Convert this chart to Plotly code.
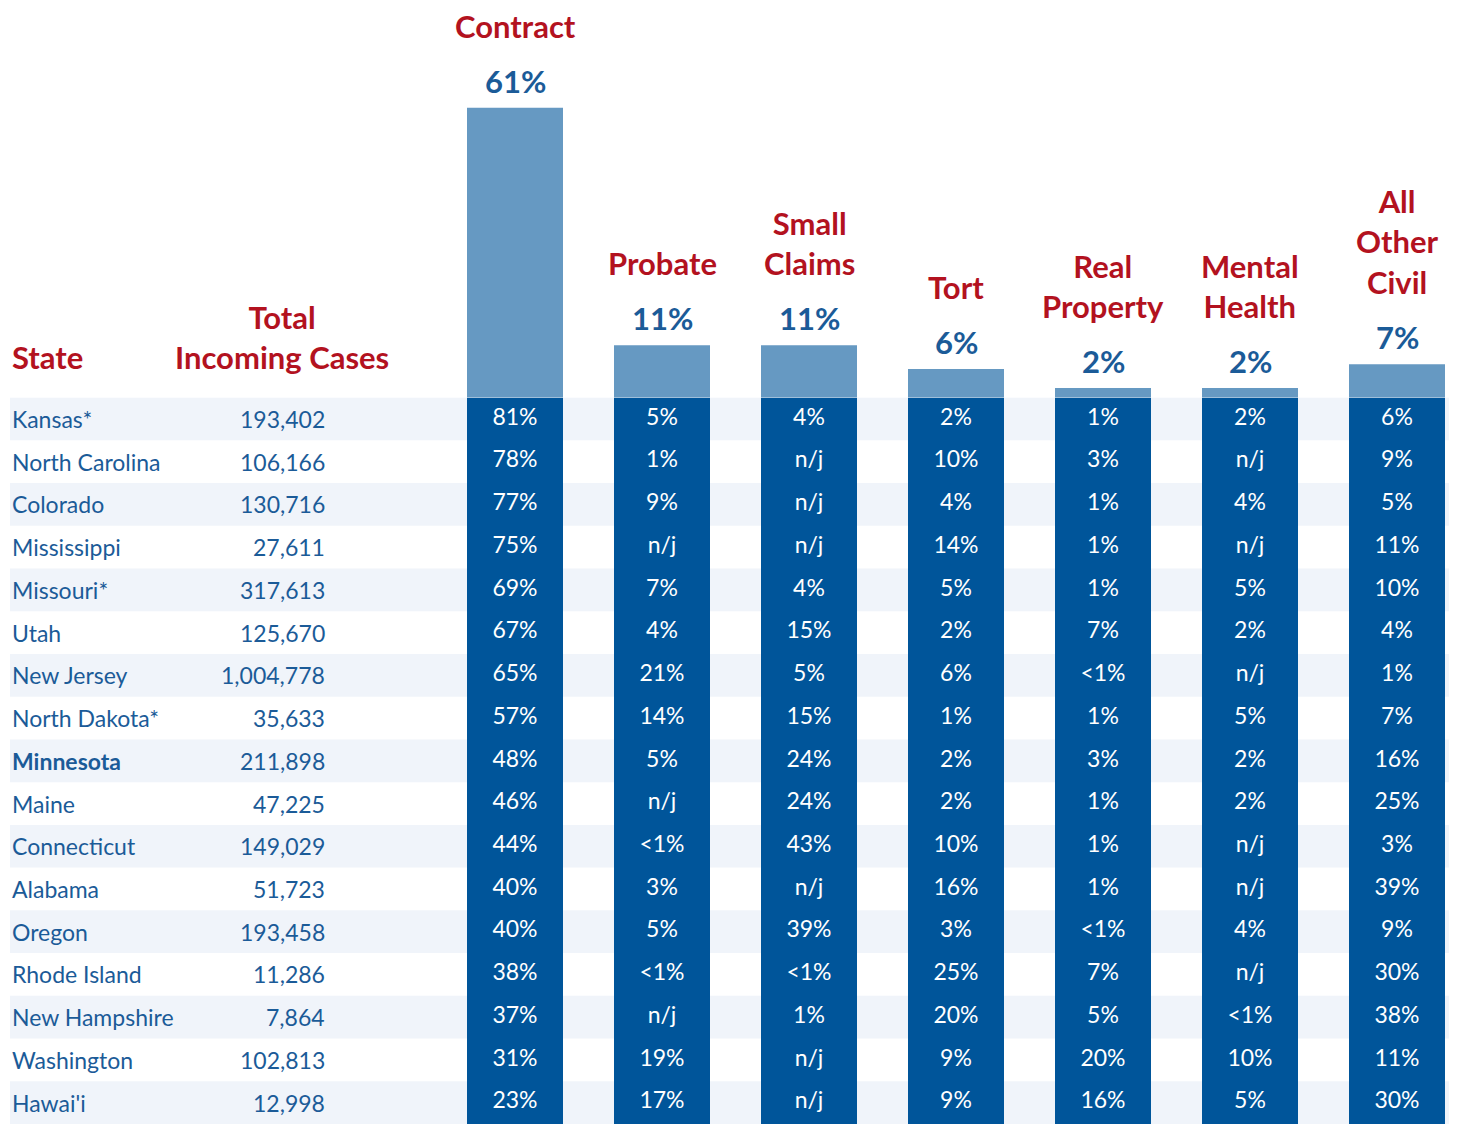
import plotly.graph_objects as go

# data
states = ["Kansas*", "North Carolina", "Colorado", "Mississippi", "Missouri*", "Utah",
          "New Jersey", "North Dakota*", "Minnesota", "Maine", "Connecticut", "Alabama",
          "Oregon", "Rhode Island", "New Hampshire", "Washington", "Hawai'i"]
totals = ["193,402", "106,166", "130,716", "27,611", "317,613", "125,670", "1,004,778",
          "35,633", "211,898", "47,225", "149,029", "51,723", "193,458", "11,286",
          "7,864", "102,813", "12,998"]
categories = ["Contract", "Probate", "Small<br>Claims", "Tort", "Real<br>Property",
              "Mental<br>Health", "All<br>Other<br>Civil"]
overall = [61, 11, 11, 6, 2, 2, 7]

contract = ["81%", "78%", "77%", "75%", "69%", "67%", "65%", "57%", "48%", "46%", "44%",
            "40%", "40%", "38%", "37%", "31%", "23%"]
probate = ["5%", "1%", "9%", "n/j", "7%", "4%", "21%", "14%", "5%", "n/j", "<1%", "3%",
           "5%", "<1%", "n/j", "19%", "17%"]
small_claims = ["4%", "n/j", "n/j", "n/j", "4%", "15%", "5%", "15%", "24%", "24%", "43%",
                "n/j", "39%", "<1%", "1%", "n/j", "n/j"]
tort = ["2%", "10%", "4%", "14%", "5%", "2%", "6%", "1%", "2%", "2%", "10%", "16%", "3%",
        "25%", "20%", "9%", "9%"]
real_property = ["1%", "3%", "1%", "1%", "1%", "7%", "<1%", "1%", "3%", "1%", "1%", "1%",
                 "<1%", "7%", "5%", "20%", "16%"]
mental_health = ["2%", "n/j", "4%", "n/j", "5%", "2%", "n/j", "5%", "2%", "2%", "n/j",
                 "n/j", "4%", "n/j", "<1%", "10%", "5%"]
all_other = ["6%", "9%", "5%", "11%", "10%", "4%", "1%", "7%", "16%", "25%", "3%", "39%",
             "9%", "30%", "38%", "11%", "30%"]
columns = [contract, probate, small_claims, tort, real_property, mental_health, all_other]

RED = "#b3121f"
BLUE_TXT = "#1b5b98"
DARK = "#00559a"
LIGHT = "#6699c2"
STRIPE = "#f0f4fa"
FONT = "Lato"

W, H = 1457, 1124
OFF = 8  # page body margin
step = 147.0
x0 = 515.0
def px2x(p):
    return (p - x0) / step

n = len(states)
cols = list(range(len(categories)))
table_top = 397.6 - OFF
table_bot = 1124 - OFF
split = (H - table_top) / H
pct_scale = 4.75  # px per percent

fig = go.Figure()

# top bars (overall share)
fig.add_trace(go.Bar(x=cols, y=overall, width=96 / step, marker_color=LIGHT,
                     marker_line_width=0, yaxis="y", hoverinfo="skip"))

# dark columns behind per-state cells
fig.add_trace(go.Bar(x=cols, y=[n] * len(cols), base=-0.5, width=96 / step,
                     marker_color=DARK, marker_line_width=0, yaxis="y2", hoverinfo="skip"))

# cell values
xs, ys, ts = [], [], []
for ci, col in enumerate(columns):
    for ri, v in enumerate(col):
        xs.append(ci); ys.append(ri); ts.append(v)
fig.add_trace(go.Scatter(x=xs, y=ys, text=ts, mode="text", yaxis="y2",
                         textfont=dict(family=FONT, size=23, color="white"),
                         hoverinfo="skip"))

annotations = []
for ri, (s, t) in enumerate(zip(states, totals)):
    bold = s == "Minnesota"
    annotations.append(dict(x=px2x(10), y=ri, xref="x", yref="y2", text=f"<b>{s}</b>" if bold else s,
                            showarrow=False, xanchor="left", yanchor="middle",
                            font=dict(family=FONT, size=23, color=BLUE_TXT)))
    annotations.append(dict(x=px2x(327), y=ri, xref="x", yref="y2", text=t,
                            showarrow=False, xanchor="right", yanchor="middle",
                            font=dict(family=FONT, size=23, color=BLUE_TXT)))

for ci, (c, v) in enumerate(zip(categories, overall)):
    annotations.append(dict(x=ci, y=v, xref="x", yref="y", text=f"<b>{v}%</b>",
                            showarrow=False, yanchor="bottom", yshift=6,
                            font=dict(family=FONT, size=31, color=BLUE_TXT)))
    annotations.append(dict(x=ci, y=v, xref="x", yref="y", text=f"<b>{c}</b>",
                            showarrow=False, yanchor="bottom", yshift=61,
                            font=dict(family=FONT, size=31, color=RED)))

annotations.append(dict(x=px2x(10), y=0, xref="x", yref="y", text="<b>State</b>",
                        showarrow=False, xanchor="left", yanchor="bottom", yshift=20,
                        font=dict(family=FONT, size=31, color=RED)))
annotations.append(dict(x=px2x(282), y=0, xref="x", yref="y", text="<b>Total<br>Incoming Cases</b>",
                        showarrow=False, xanchor="center", yanchor="bottom", yshift=20,
                        font=dict(family=FONT, size=31, color=RED)))

# row stripes
shapes = []
for ri in range(0, n, 2):
    shapes.append(dict(type="rect", xref="paper", yref="y2", x0=(10 - OFF) / W, x1=1,
                       y0=ri - 0.5, y1=ri + 0.5, fillcolor=STRIPE, line_width=0, layer="below"))

fig.update_layout(
    width=W, height=H,
    margin=dict(l=0, r=0, t=0, b=0),
    paper_bgcolor="white", plot_bgcolor="rgba(0,0,0,0)",
    showlegend=False,
    barmode="overlay",
    xaxis=dict(range=[px2x(OFF), px2x(W + OFF)], visible=False, fixedrange=True),
    yaxis=dict(domain=[split, 1], range=[0, table_top / pct_scale], visible=False),
    yaxis2=dict(domain=[(H - table_bot) / H, split], range=[n - 0.5, -0.5], visible=False),
    annotations=annotations,
    shapes=shapes,
)

fig.write_html("out.html")
